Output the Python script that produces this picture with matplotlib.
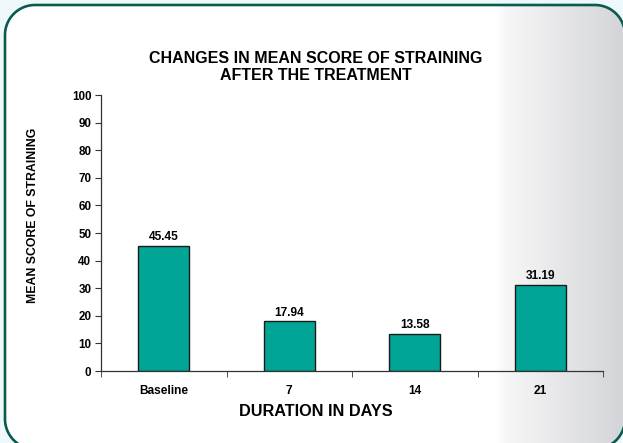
import numpy as np
import matplotlib
matplotlib.use("Agg")
import matplotlib.pyplot as plt
from matplotlib.patches import PathPatch
from matplotlib.path import Path
from matplotlib.colors import LinearSegmentedColormap

categories = ["Baseline", "7", "14", "21"]
values = [45.45, 17.94, 13.58, 31.19]
value_labels = ["45.45", "17.94", "13.58", "31.19"]
yticks = [0, 10, 20, 30, 40, 50, 60, 70, 80, 90, 100]

plt.rcParams['font.family'] = ['Liberation Sans', 'DejaVu Sans']

W, H = 623, 443
fig = plt.figure(figsize=(W / 100, H / 100), dpi=100)
fig.patch.set_facecolor('#eef8fb')


def rounded_rect(x0, y0, x1, y1, r, n=30):
    pts = []
    corners = [((x1 - r, y0 + r), -90, 0), ((x1 - r, y1 - r), 0, 90),
               ((x0 + r, y1 - r), 90, 180), ((x0 + r, y0 + r), 180, 270)]
    for (cx, cy), a0, a1 in corners:
        t = np.radians(np.linspace(a0, a1, n))
        pts.extend(zip(cx + r * np.cos(t), cy + r * np.sin(t)))
    pts.append(pts[0])
    return Path(np.array(pts), closed=True)


# background axes in pixel coordinates (y down)
bg = fig.add_axes([0, 0, 1, 1], zorder=0)
bg.set_xlim(0, W)
bg.set_ylim(H, 0)
bg.axis('off')
path = rounded_rect(5, 5, 625, 449, 30)
face = PathPatch(path, facecolor='white', edgecolor='none', zorder=1)
bg.add_patch(face)
xs = np.linspace(0, W, 1246)
tg = np.interp(xs, [0, 496, 506, 623], [0, 0, 0.2, 1.0])
grad = np.tile(tg, (2, 1))
cmap = LinearSegmentedColormap.from_list('g', ['#ffffff', '#d4d5d8'])
im = bg.imshow(grad, extent=(0, W, H, 0), cmap=cmap, aspect='auto', zorder=2,
               vmin=0, vmax=1, interpolation='bilinear')
im.set_clip_path(face)
bg.add_patch(PathPatch(path, facecolor='none', edgecolor='#0b5a50',
                       linewidth=1.9, zorder=3))

ax = fig.add_axes([101 / W, 1 - 371 / H, (603 - 101) / W, (371 - 95) / H], zorder=1)
ax.patch.set_alpha(0)
x = np.arange(len(categories))
ax.bar(x, values, width=0.41, color='#00a595', edgecolor='#1a1a1a', linewidth=1.0)
for xi, v, lab in zip(x, values, value_labels):
    ax.text(xi, v + 1.0, lab, ha='center', va='bottom', fontsize=8.6, fontweight='bold')

ax.set_xlim(-0.5, len(categories) - 0.5)
ax.set_ylim(0, 100)
ax.set_yticks(yticks)
ax.set_yticklabels([str(t) for t in yticks], fontsize=8.4, fontweight='bold')
ax.set_xticks(x)
ax.set_xticklabels(categories, fontsize=8.6, fontweight='bold')
ax.tick_params(axis='x', length=0, pad=10)
ax.set_xticks(np.arange(-0.5, len(categories)), minor=True)
ax.tick_params(axis='x', which='minor', length=4, direction='out', color='#333333')
ax.tick_params(axis='y', length=4, direction='out', color='#333333', pad=3)
for s in ['top', 'right']:
    ax.spines[s].set_visible(False)
for s in ['left', 'bottom']:
    ax.spines[s].set_color('#333333')
    ax.spines[s].set_linewidth(0.9)

fig.text(316 / W, 1 - 67 / H, "CHANGES IN MEAN SCORE OF STRAINING\nAFTER THE TREATMENT",
         ha='center', va='center', fontsize=11.5, fontweight='bold', linespacing=1.1)
fig.text(33 / W, 1 - 215 / H, "MEAN SCORE OF STRAINING", rotation=90,
         ha='center', va='center', fontsize=8.8, fontweight='bold')
fig.text(316 / W, 1 - 412 / H, "DURATION IN DAYS", ha='center', va='center',
         fontsize=11.7, fontweight='bold')

fig.savefig('out.png', dpi=100)
